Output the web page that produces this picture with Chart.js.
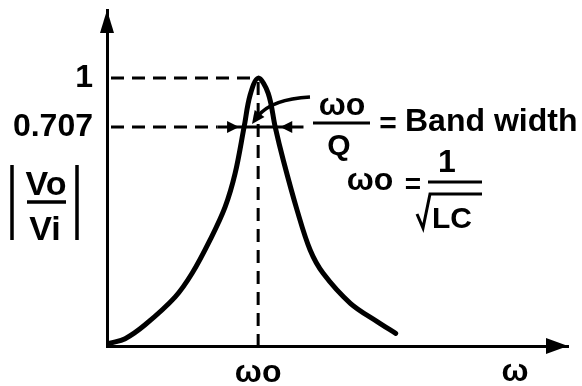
<!DOCTYPE html>
<html>
<head>
<meta charset="utf-8">
<script src="https://cdn.jsdelivr.net/npm/chart.js@4.4.1/dist/chart.umd.min.js"></script>
<style>
  html, body { margin: 0; padding: 0; background: #fff; }
  #wrap { width: 582px; height: 386px; }
</style>
</head>
<body>
<div id="wrap"><canvas id="resonance"></canvas></div>
<script>
// frequency in units of w0, and gain |Vo/Vi|
const omega = [0.02, 0.12, 0.25, 0.45, 0.563, 0.682, 0.781, 0.848, 0.907, 0.947, 1.0, 1.066, 1.113, 1.166, 1.258, 1.344, 1.43, 1.61, 1.79, 1.91];
const gain = [0.153, 0.158, 0.174, 0.212, 0.251, 0.318, 0.401, 0.51, 0.707, 0.887, 1.0, 0.899, 0.707, 0.56, 0.392, 0.296, 0.251, 0.203, 0.178, 0.164];
const yTicks = [0.707, 1];
const yTickText = ["0.707", "1"];
const xTicks = [1];
const xTickText = ["ωo"];
const halfPower = 0.707;
const bandEdges = [0.907, 1.113];

const INK = "#000";
const FONT = "Liberation Sans, Arial, sans-serif";

function arrowHead(ctx, tipX, tipY, angle, len, half) {
  ctx.save();
  ctx.translate(tipX, tipY);
  ctx.rotate(angle);
  ctx.beginPath();
  ctx.moveTo(0, 0);
  ctx.lineTo(-len, -half);
  ctx.lineTo(-len, half);
  ctx.closePath();
  ctx.fill();
  ctx.restore();
}

function text(ctx, str, x, y, size, align) {
  ctx.font = "bold " + size + "px " + FONT;
  ctx.textAlign = align || "center";
  ctx.textBaseline = "alphabetic";
  ctx.fillText(str, x, y);
}

// dashed guides, band-width arrows, axis arrows and the formulas
const annotations = {
  id: "annotations",
  afterDraw(chart) {
    const ctx = chart.ctx;
    const xs = chart.scales.x;
    const ys = chart.scales.y;
    const area = chart.chartArea;
    const x0 = xs.getPixelForValue(xs.min);
    const xPeak = xs.getPixelForValue(1);
    const yPeak = ys.getPixelForValue(1);
    const yHalf = ys.getPixelForValue(halfPower);
    const yBase = ys.getPixelForValue(ys.min);

    ctx.save();
    ctx.strokeStyle = INK;
    ctx.fillStyle = INK;
    ctx.lineWidth = 3;
    ctx.setLineDash([13, 8]);

    ctx.beginPath();
    ctx.moveTo(x0 + 4, yPeak);
    ctx.lineTo(xPeak, yPeak);
    ctx.moveTo(xPeak, yPeak + 4);
    ctx.lineTo(xPeak, yBase);
    ctx.moveTo(x0 + 4, yHalf);
    ctx.lineTo(xs.getPixelForValue(0.73), yHalf);
    ctx.stroke();

    // solid band-width bar with inward arrows
    ctx.setLineDash([]);
    ctx.beginPath();
    ctx.moveTo(xs.getPixelForValue(0.73), yHalf);
    ctx.lineTo(xs.getPixelForValue(1.30), yHalf);
    ctx.stroke();
    arrowHead(ctx, xs.getPixelForValue(bandEdges[0]) - 5, yHalf, 0, 12, 6);
    arrowHead(ctx, xs.getPixelForValue(bandEdges[1]) + 5, yHalf, Math.PI, 12, 6);

    // curved pointer into the band
    ctx.lineWidth = 3.5;
    ctx.beginPath();
    ctx.moveTo(310, 97);
    ctx.quadraticCurveTo(272, 99, 258, 116);
    ctx.stroke();
    arrowHead(ctx, 252, 124, Math.atan2(14, -10), 13, 6);

    // axis arrowheads
    arrowHead(ctx, area.left, area.top, -Math.PI / 2, 23, 7);
    arrowHead(ctx, area.right, area.bottom, 0, 22, 8);

    // |Vo/Vi| axis title
    ctx.lineWidth = 3.5;
    ctx.beginPath();
    ctx.moveTo(12, 165); ctx.lineTo(12, 240);
    ctx.moveTo(77, 165); ctx.lineTo(77, 240);
    ctx.moveTo(27, 202); ctx.lineTo(66, 202);
    ctx.stroke();
    text(ctx, "Vo", 46, 195, 34);
    text(ctx, "Vi", 45, 240, 34);

    // w0/Q = Band width
    ctx.lineWidth = 3;
    ctx.beginPath();
    ctx.moveTo(313, 123); ctx.lineTo(370, 123);
    ctx.stroke();
    text(ctx, "ωo", 342, 115, 32);
    text(ctx, "Q", 339, 155, 30);
    text(ctx, "=", 388, 133, 30);
    text(ctx, "Band width", 405, 131, 32, "left");

    // w0 = 1/sqrt(LC)
    text(ctx, "ωo", 370, 190, 32);
    text(ctx, "=", 413, 193, 28);
    text(ctx, "1", 447, 172, 32);
    ctx.beginPath();
    ctx.moveTo(428, 182); ctx.lineTo(482, 182);
    ctx.moveTo(417, 214); ctx.lineTo(423, 228); ctx.lineTo(430, 194); ctx.lineTo(482, 194);
    ctx.stroke();
    text(ctx, "LC", 432, 228, 30, "left");

    // frequency axis title
    text(ctx, "ω", 515, 381, 32);
    ctx.restore();
  }
};

new Chart(document.getElementById("resonance"), {
  type: "line",
  data: {
    datasets: [{
      data: omega.map((w, i) => ({ x: w, y: gain[i] })),
      borderColor: INK,
      borderWidth: 5,
      borderCapStyle: "round",
      pointRadius: 0,
      tension: 0.35,
      fill: false
    }]
  },
  options: {
    responsive: true,
    maintainAspectRatio: false,
    animation: false,
    layout: { padding: { top: 10, right: 14, left: 0, bottom: 0 } },
    plugins: { legend: { display: false }, tooltip: { enabled: false } },
    scales: {
      x: {
        type: "linear",
        min: 0,
        max: 3.05,
        grid: { display: false },
        border: { display: true, color: INK, width: 3 },
        afterFit(scale) {
          scale.height = 40;
          scale.paddingLeft = 0;
          scale.paddingRight = 0;
        },
        afterBuildTicks(scale) { scale.ticks = xTicks.map(v => ({ value: v })); },
        ticks: {
          color: INK,
          padding: 0,
          font: { family: FONT, size: 32, weight: "bold" },
          maxRotation: 0,
          callback: (v) => xTickText[xTicks.indexOf(v)]
        }
      },
      y: {
        type: "logarithmic",
        min: 0.15,
        max: 1.62,
        grid: { display: false },
        border: { display: true, color: INK, width: 3 },
        afterFit(scale) {
          scale.width = 107;
          scale.paddingTop = 0;
          scale.paddingBottom = 0;
        },
        afterBuildTicks(scale) { scale.ticks = yTicks.map(v => ({ value: v })); },
        ticks: {
          color: INK,
          padding: 6,
          font: { family: FONT, size: 32, weight: "bold" },
          callback: (v) => yTickText[yTicks.indexOf(v)]
        }
      }
    }
  },
  plugins: [annotations]
});
</script>
</body>
</html>
